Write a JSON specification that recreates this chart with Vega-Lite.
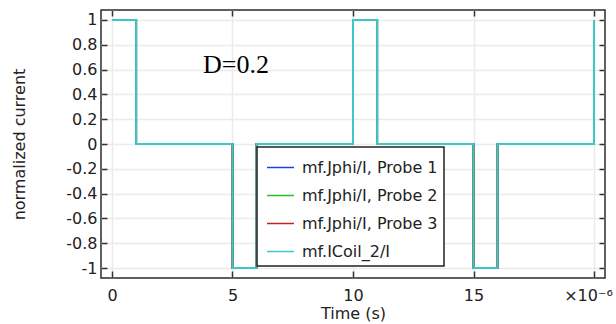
{
  "$schema": "https://vega.github.io/schema/vega-lite/v6.json",
  "width": 504,
  "height": 268,
  "autosize": {"type": "none"},
  "padding": {"left": 101, "top": 10, "right": 11, "bottom": 46},
  "background": "white",
  "datasets": {
    "series": [
      {"series": "mf.Jphi/I, Probe 1", "t": 0, "v": 1},
      {"series": "mf.Jphi/I, Probe 1", "t": 1, "v": 0},
      {"series": "mf.Jphi/I, Probe 1", "t": 5, "v": -1},
      {"series": "mf.Jphi/I, Probe 1", "t": 6, "v": 0},
      {"series": "mf.Jphi/I, Probe 1", "t": 10, "v": 1},
      {"series": "mf.Jphi/I, Probe 1", "t": 11, "v": 0},
      {"series": "mf.Jphi/I, Probe 1", "t": 15, "v": -1},
      {"series": "mf.Jphi/I, Probe 1", "t": 16, "v": 0},
      {"series": "mf.Jphi/I, Probe 1", "t": 20, "v": 1},
      {"series": "mf.Jphi/I, Probe 2", "t": 0, "v": 1},
      {"series": "mf.Jphi/I, Probe 2", "t": 1, "v": 0},
      {"series": "mf.Jphi/I, Probe 2", "t": 5, "v": -1},
      {"series": "mf.Jphi/I, Probe 2", "t": 6, "v": 0},
      {"series": "mf.Jphi/I, Probe 2", "t": 10, "v": 1},
      {"series": "mf.Jphi/I, Probe 2", "t": 11, "v": 0},
      {"series": "mf.Jphi/I, Probe 2", "t": 15, "v": -1},
      {"series": "mf.Jphi/I, Probe 2", "t": 16, "v": 0},
      {"series": "mf.Jphi/I, Probe 2", "t": 20, "v": 1},
      {"series": "mf.Jphi/I, Probe 3", "t": 0, "v": 1},
      {"series": "mf.Jphi/I, Probe 3", "t": 1, "v": 0},
      {"series": "mf.Jphi/I, Probe 3", "t": 5, "v": -1},
      {"series": "mf.Jphi/I, Probe 3", "t": 6, "v": 0},
      {"series": "mf.Jphi/I, Probe 3", "t": 10, "v": 1},
      {"series": "mf.Jphi/I, Probe 3", "t": 11, "v": 0},
      {"series": "mf.Jphi/I, Probe 3", "t": 15, "v": -1},
      {"series": "mf.Jphi/I, Probe 3", "t": 16, "v": 0},
      {"series": "mf.Jphi/I, Probe 3", "t": 20, "v": 1},
      {"series": "mf.ICoil_2/I", "t": 0, "v": 1},
      {"series": "mf.ICoil_2/I", "t": 1, "v": 0},
      {"series": "mf.ICoil_2/I", "t": 5, "v": -1},
      {"series": "mf.ICoil_2/I", "t": 6, "v": 0},
      {"series": "mf.ICoil_2/I", "t": 10, "v": 1},
      {"series": "mf.ICoil_2/I", "t": 11, "v": 0},
      {"series": "mf.ICoil_2/I", "t": 15, "v": -1},
      {"series": "mf.ICoil_2/I", "t": 16, "v": 0},
      {"series": "mf.ICoil_2/I", "t": 20, "v": 1}
    ],
    "notes": [
      {"label": "D=0.2", "t": 3.78, "v": 0.573}
    ]
  },
  "layer": [
    {
      "data": {"name": "series"},
      "mark": {"type": "line", "interpolate": "step-after", "strokeWidth": 2},
      "encoding": {
        "x": {
          "field": "t", "type": "quantitative",
          "scale": {"domain": [-0.456, 20.456], "nice": false, "zero": false},
          "axis": {
            "orient": "bottom", "values": [0, 5, 10, 15, 20], "format": "d",
            "labelExpr": "datum.value == 20 ? '×10⁻⁶' : datum.label",
            "labelOffset": {"condition": {"test": "datum.value == 20", "value": -6}, "value": 0},
            "title": "Time (s)", "tickSize": -7, "tickWidth": 1.5, "tickColor": "#333",
            "domain": false, "grid": true, "gridColor": "#ebebeb", "gridWidth": 1.5,
            "labelFontSize": 16, "titleFontSize": 16, "labelPadding": 16, "titlePadding": 2,
            "labelColor": "#222", "titleColor": "#222", "labelFlush": false, "labelOverlap": false,
            "titleFontWeight": "normal", "labelFont": "DejaVu Sans", "titleFont": "DejaVu Sans"
          }
        },
        "y": {
          "field": "v", "type": "quantitative",
          "scale": {"domain": [-1.08, 1.08], "nice": false, "zero": false},
          "axis": {
            "orient": "left", "values": [-1, -0.8, -0.6, -0.4, -0.2, 0, 0.2, 0.4, 0.6, 0.8, 1],
            "labelExpr": "replace(format(datum.value, '.1~f'), '−', '-')",
            "title": "normalized current", "tickSize": -6, "tickWidth": 1.5, "tickColor": "#333",
            "domain": false, "grid": true, "gridColor": "#ebebeb", "gridWidth": 1.5,
            "labelFontSize": 16, "titleFontSize": 16, "labelPadding": 10, "titlePadding": 38,
            "labelColor": "#222", "titleColor": "#222", "labelOverlap": false, "labelFlush": false,
            "titleFontWeight": "normal", "labelFont": "DejaVu Sans", "titleFont": "DejaVu Sans"
          }
        },
        "color": {
          "field": "series", "type": "nominal", "sort": null,
          "scale": {
            "domain": ["mf.Jphi/I, Probe 1", "mf.Jphi/I, Probe 2", "mf.Jphi/I, Probe 3", "mf.ICoil_2/I"],
            "range": ["#1f3cf0", "#22c022", "#c81e1e", "#3cc8c8"]
          },
          "legend": {
            "title": null, "orient": "none", "legendX": 156, "legendY": 137, "direction": "vertical",
            "symbolType": "stroke", "symbolSize": 729, "symbolStrokeWidth": 1.5, "symbolOffset": 3,
            "labelFontSize": 16, "labelFont": "DejaVu Sans", "labelColor": "#222",
            "strokeColor": "#222", "fillColor": "white", "padding": 6,
            "rowPadding": 5, "labelOffset": 7, "labelLimit": 300
          }
        }
      }
    },
    {
      "data": {"name": "notes"},
      "mark": {"type": "text", "font": "Liberation Serif", "fontSize": 26, "align": "left", "baseline": "alphabetic", "color": "black"},
      "encoding": {
        "x": {
          "field": "t", "type": "quantitative",
          "axis": {"orient": "top", "values": [0, 5, 10, 15, 20], "labels": false, "title": null, "tickSize": -6, "tickWidth": 1.5, "tickColor": "#333", "grid": false, "domain": false}
        },
        "y": {
          "field": "v", "type": "quantitative",
          "axis": {"orient": "right", "values": [-1, -0.8, -0.6, -0.4, -0.2, 0, 0.2, 0.4, 0.6, 0.8, 1], "labels": false, "title": null, "tickSize": -6, "tickWidth": 1.5, "tickColor": "#333", "grid": false, "domain": false}
        },
        "text": {"field": "label"}
      }
    }
  ],
  "resolve": {"axis": {"x": "independent", "y": "independent"}},
  "config": {
    "view": {"stroke": "#2b2b2b", "strokeWidth": 1.5},
    "legend": {"strokeWidth": 1.5},
    "font": "DejaVu Sans"
  }
}
